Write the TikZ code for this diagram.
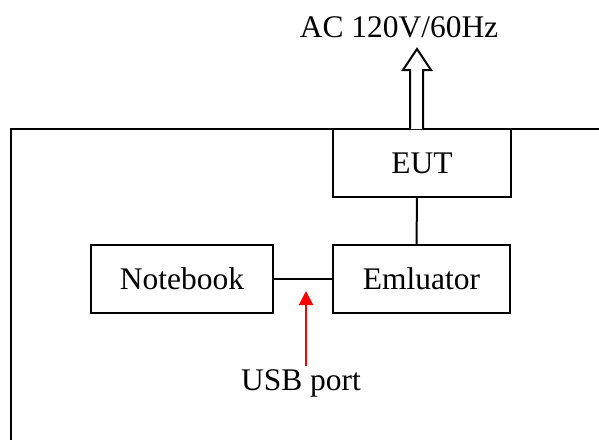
\documentclass[tikz,border=0pt]{standalone}
\usepackage{fontspec}
\setmainfont{Liberation Serif}
\usetikzlibrary{arrows.meta, positioning}

\begin{document}
\begin{tikzpicture}[x=0.75pt, y=-0.75pt, >=Triangle, line width=1.5pt,
  box/.style={draw, minimum width=133pt, minimum height=51pt, inner sep=0pt,
    font=\fontsize{23.6}{28}\selectfont},
  lbl/.style={inner sep=0pt, font=\fontsize{23.6}{28}\selectfont}]
  \clip (0,0) rectangle (599,439);
  % test room outline
  \draw (11,129) rectangle (640,480);
  \node[box] (eut) at (422,163) {EUT};
  \node[box] (emu) at (421.5,279) {Emluator};
  \node[box, minimum width=136.5pt] (nb) at (182,279) {Notebook};
  \draw (nb) -- (emu);
  \draw ([xshift=-3.75pt]eut.south) -- ([xshift=-3.75pt]emu.north);
  % mains supply
  \node[lbl] (ac) at (399,27) {AC 120V/60Hz};
  \draw[fill=white] (410,129) -- (410,70) -- (403,70) -- (417,49) -- (431,70)
    -- (423,70) -- (423,129);
  % usb port
  \node[lbl] (usb) at (301,383) {USB port};
  \coordinate (port) at (306,291);
  \draw[->, red, {-Triangle[width=10.5pt, length=10.5pt]}] (306,366) -- (port);
\end{tikzpicture}
\end{document}
